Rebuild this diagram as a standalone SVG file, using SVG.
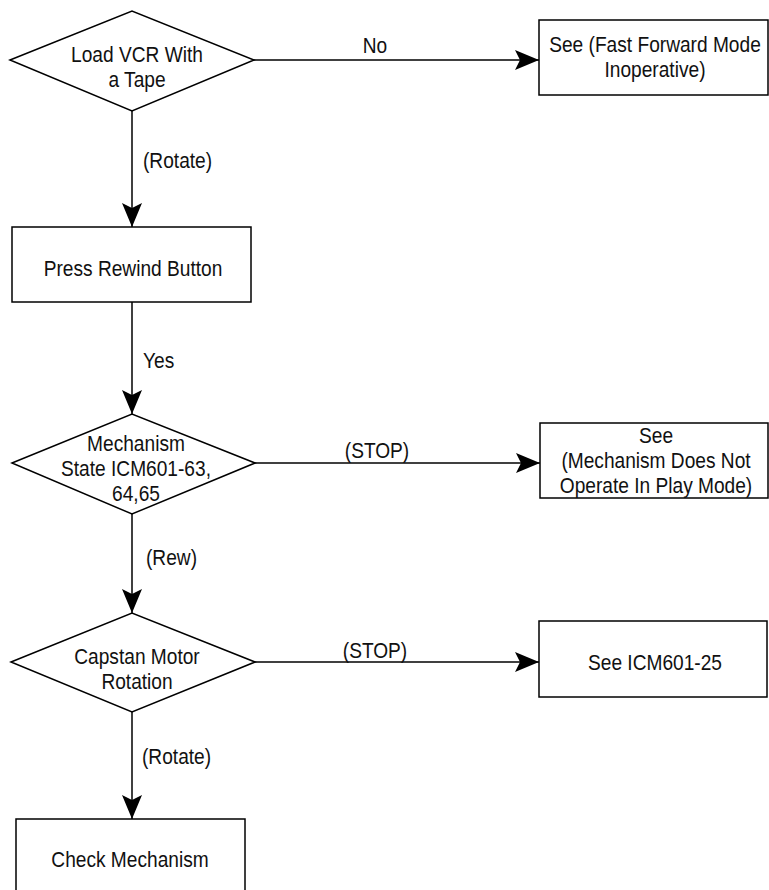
<svg xmlns="http://www.w3.org/2000/svg" width="769" height="890" viewBox="0 0 769 890">
<defs>
<style>
.shape{fill:#fff;stroke:#000;stroke-width:1.5}
.edge{fill:none;stroke:#000;stroke-width:1.5}
text{font-family:"Liberation Sans",Arial,sans-serif;font-size:22px;fill:#111}
.c{text-anchor:middle}
</style>
<marker id="arr" markerUnits="userSpaceOnUse" markerWidth="26" markerHeight="22" refX="24" refY="10" orient="auto">
<path d="M0,0 L24,10 L0,20 L5,10 Z" fill="#000"/>
</marker>
</defs>
<rect width="769" height="890" fill="#fff"/>
<g id="connectors">
<line class="edge" x1="253" y1="60" x2="539" y2="60" marker-end="url(#arr)"/>
<text class="c" transform="translate(375,53) scale(0.87,1)">No</text>
<line class="edge" x1="132" y1="111" x2="132" y2="227" marker-end="url(#arr)"/>
<text transform="translate(143,168) scale(0.87,1)">(Rotate)</text>
<line class="edge" x1="132" y1="302" x2="132" y2="414" marker-end="url(#arr)"/>
<text transform="translate(143,368) scale(0.87,1)">Yes</text>
<line class="edge" x1="255" y1="463" x2="540" y2="463" marker-end="url(#arr)"/>
<text class="c" transform="translate(377,458) scale(0.87,1)">(STOP)</text>
<line class="edge" x1="132" y1="514" x2="132" y2="613" marker-end="url(#arr)"/>
<text transform="translate(146,565) scale(0.87,1)">(Rew)</text>
<line class="edge" x1="255" y1="662" x2="539" y2="662" marker-end="url(#arr)"/>
<text class="c" transform="translate(375,658) scale(0.87,1)">(STOP)</text>
<line class="edge" x1="132" y1="712" x2="132" y2="819" marker-end="url(#arr)"/>
<text transform="translate(142,764) scale(0.87,1)">(Rotate)</text>
</g>
<g id="n1">
<polygon class="shape" points="10,60 132,11 254,60 132,111"/>
<text class="c" transform="translate(137,62) scale(0.87,1)">Load VCR With</text>
<text class="c" transform="translate(137,87) scale(0.87,1)">a Tape</text>
</g>
<g id="n2">
<rect class="shape" x="539" y="20" width="229" height="75"/>
<text class="c" transform="translate(655,52) scale(0.87,1)">See (Fast Forward Mode</text>
<text class="c" transform="translate(655,77) scale(0.87,1)">Inoperative)</text>
</g>
<g id="n3">
<rect class="shape" x="12" y="227" width="239" height="75"/>
<text class="c" transform="translate(133,276) scale(0.87,1)">Press Rewind Button</text>
</g>
<g id="n4">
<polygon class="shape" points="12,463 132,414 255,463 132,514"/>
<text class="c" transform="translate(136,451) scale(0.87,1)">Mechanism</text>
<text class="c" transform="translate(136,476) scale(0.87,1)">State ICM601-63,</text>
<text class="c" transform="translate(136,501) scale(0.87,1)">64,65</text>
</g>
<g id="n5">
<rect class="shape" x="540" y="423" width="228" height="75"/>
<text class="c" transform="translate(656,443) scale(0.87,1)">See</text>
<text class="c" transform="translate(656,468) scale(0.87,1)">(Mechanism Does Not</text>
<text class="c" transform="translate(656,493) scale(0.87,1)">Operate In Play Mode)</text>
</g>
<g id="n6">
<polygon class="shape" points="11,662 132,613 255,662 132,712"/>
<text class="c" transform="translate(137,664) scale(0.87,1)">Capstan Motor</text>
<text class="c" transform="translate(137,689) scale(0.87,1)">Rotation</text>
</g>
<g id="n7">
<rect class="shape" x="539" y="621" width="228" height="76"/>
<text class="c" transform="translate(655,670) scale(0.87,1)">See ICM601-25</text>
</g>
<g id="n8">
<rect class="shape" x="16" y="819" width="229" height="80"/>
<text class="c" transform="translate(130,867) scale(0.87,1)">Check Mechanism</text>
</g>
</svg>
